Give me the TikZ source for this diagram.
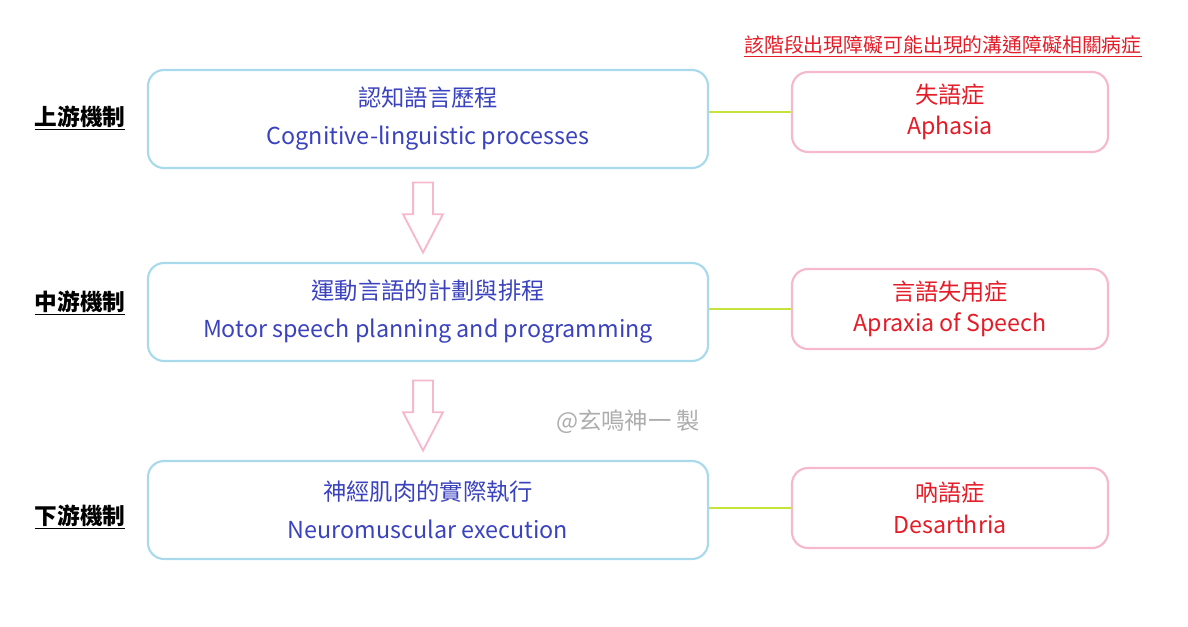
\documentclass[tikz,border=0pt]{standalone}
\usepackage{fontspec}
\setmainfont{Noto Sans CJK TC}
\usetikzlibrary{shapes.arrows}

\definecolor{boxblue}{RGB}{168,218,236}
\definecolor{boxpink}{RGB}{246,184,204}
\definecolor{linkgreen}{RGB}{196,228,60}
\definecolor{textblue}{RGB}{58,66,190}
\definecolor{textred}{RGB}{228,28,40}

\tikzset{
  stage/.style={draw=boxblue, line width=1.6pt, rounded corners=12pt,
    minimum width=420pt, minimum height=73.5pt, align=center,
    text=textblue, font=\fontsize{17.5}{28.5}\selectfont},
  disorder/.style={draw=boxpink, line width=1.6pt, rounded corners=12pt,
    minimum width=237pt, minimum height=60pt, align=center,
    text=textred, font=\fontsize{17.4}{23.5}\selectfont},
  level/.style={font=\bfseries\fontsize{17}{19}\selectfont},
  downarrow/.style={single arrow, draw=boxpink, line width=1.4pt,
    shape border rotate=270, minimum height=52.5pt, inner sep=6.75pt,
    single arrow head extend=7.5pt, single arrow tip angle=55},
  link/.style={draw=linkgreen, line width=1.8pt}
}

\begin{document}
\begin{tikzpicture}[x=0.75pt,y=-0.75pt]
  \useasboundingbox (0,0) rectangle (1188,627);

  \node[text=textred, font=\fontsize{14.9}{17}\selectfont] (title) at (943,46)
    {\underline{該階段出現障礙可能出現的溝通障礙相關病症}};

  \node[stage]    (cog)  at (428,119) {認知語言歷程\\Cognitive-linguistic processes};
  \node[stage]    (mot)  at (428,312) {運動言語的計劃與排程\\Motor speech planning and programming};
  \node[stage]    (neu)  at (428,510) {神經肌肉的實際執行\\Neuromuscular execution};

  \node[disorder] (aph)  at (950,112) {失語症\\Aphasia};
  \node[disorder] (aos)  at (950,309) {言語失用症\\Apraxia of Speech};
  \node[disorder] (dys)  at (950,508) {吶語症\\Desarthria};

  \node[level]    (up)   at (80,118)  {\underline{上游機制}};
  \node[level]    (mid)  at (80,303)  {\underline{中游機制}};
  \node[level]    (down) at (80,517)  {\underline{下游機制}};

  \node[downarrow] (arr1) at (423,208) {};
  \node[downarrow] (arr2) at (423,406) {};

  \node[text=black!32, font=\fontsize{17.5}{19}\selectfont] (mark) at (628,422) {@玄鳴神一 製};

  \draw[link] (aph.west) -- (aph.west -| cog.east);
  \draw[link] (aos.west) -- (aos.west -| mot.east);
  \draw[link] (dys.west) -- (dys.west -| neu.east);
\end{tikzpicture}
\end{document}
